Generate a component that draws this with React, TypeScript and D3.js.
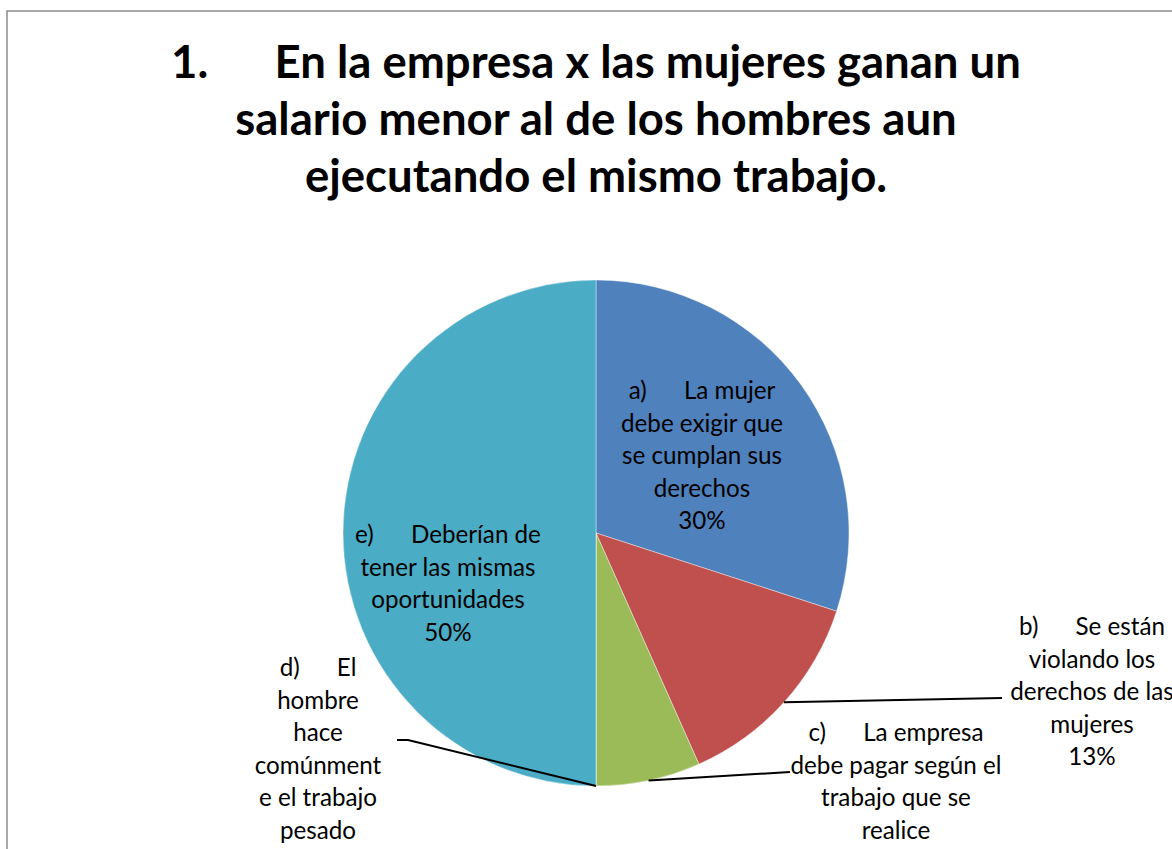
import React from "react";
import * as d3 from "d3";

const categories = [
  "a) La mujer debe exigir que se cumplan sus derechos",
  "b) Se están violando los derechos de las mujeres",
  "c) La empresa debe pagar según el trabajo que se realice",
  "d) El hombre hace comúnmente el trabajo pesado",
  "e) Deberían de tener las mismas oportunidades",
];
const counts = [9, 4, 2, 0, 15];
const colors = ["#4F81BD", "#C0504D", "#9BBB59", "#8064A2", "#4BACC6"];
const percentLabels = ["30%", "13%", "7%", "0%", "50%"];
// wrapped label lines as they appear in the chart
const labelLines = [
  ["a)\u00A0\u00A0\u00A0\u00A0\u00A0\u00A0La mujer", "debe exigir que", "se cumplan sus", "derechos"],
  ["b)\u00A0\u00A0\u00A0\u00A0\u00A0\u00A0Se están", "violando los", "derechos de las", "mujeres"],
  ["c)\u00A0\u00A0\u00A0\u00A0\u00A0\u00A0La empresa", "debe pagar según el", "trabajo que se", "realice"],
  ["d)\u00A0\u00A0\u00A0\u00A0\u00A0\u00A0El", "hombre", "hace", "comúnment", "e el trabajo", "pesado"],
  ["e)\u00A0\u00A0\u00A0\u00A0\u00A0\u00A0Deberían de", "tener las mismas", "oportunidades"],
];
const titleLines = [
  "1.\u00A0\u00A0\u00A0\u00A0\u00A0\u00A0En la empresa x las mujeres ganan un",
  "salario menor al de los hombres aun",
  "ejecutando el mismo trabajo.",
];

const W = 1172;
const H = 849;
const cx = 596;
const cy = 533;
const R = 253;
const FONT = "Lato, 'Open Sans', sans-serif";

// label anchor positions (center x, first baseline y) and leader endpoints
const labelPos: { x: number; y: number; leader?: [number, number][] }[] = [
  { x: 702, y: 399 },
  { x: 1092, y: 635, leader: [[1002, 698]] },
  { x: 896, y: 741, leader: [[790, 772]] },
  { x: 318, y: 676, leader: [[408, 740], [397, 740]] },
  { x: 448, y: 543 },
];

export default function App() {
  const pie = d3.pie<number>().sort(null).value((d) => d);
  const arcs = pie(counts);
  const arc = d3.arc<d3.PieArcDatum<number>>().innerRadius(0).outerRadius(R);
  const lineH = 32.5;

  return (
    <svg
      width={W}
      height={H}
      style={{ position: "absolute", left: 0, top: 0, background: "#fff" }}
    >
      <title>{categories.join("; ")}</title>
      <rect x={7} y={11} width={W + 10} height={H + 10} fill="#fff" stroke="#8c8c8c" strokeWidth={1.5} />
      <g fontFamily={FONT} fontWeight={700} fontSize={45.5} textAnchor="middle" fill="#000">
        {titleLines.map((t, i) => (
          <text key={i} x={cx} y={78 + i * 57}>
            {t}
          </text>
        ))}
      </g>
      <g transform={`translate(${cx},${cy})`}>
        {arcs.map((a, i) => (
          <path key={i} d={arc(a) || ""} fill={colors[i]} stroke="#fff" strokeWidth={0.4} />
        ))}
      </g>
      {arcs.map((a, i) => {
        const p = labelPos[i];
        if (!p.leader) return null;
        const mid = (a.startAngle + a.endAngle) / 2;
        const sx = cx + R * Math.sin(mid);
        const sy = cy - R * Math.cos(mid);
        const pts: [number, number][] = [[sx, sy], ...p.leader];
        return (
          <path
            key={"l" + i}
            d={d3.line()(pts) || ""}
            fill="none"
            stroke="#000"
            strokeWidth={2}
          />
        );
      })}
      <g fontFamily={FONT} fontSize={24.2} textAnchor="middle" fill="#000">
        {labelLines.map((lines, i) => (
          <text key={i} x={labelPos[i].x} y={labelPos[i].y}>
            {[...lines, percentLabels[i]]
              .map((ln, j) => ({ ln, y: labelPos[i].y + j * lineH }))
              .filter((d) => d.y < H - 5)
              .map((d, j) => (
                <tspan key={j} x={labelPos[i].x} y={d.y}>
                  {d.ln}
                </tspan>
              ))}
          </text>
        ))}
      </g>
    </svg>
  );
}
